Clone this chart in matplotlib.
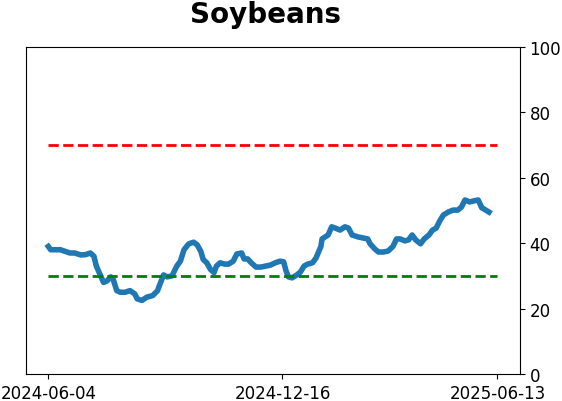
import datetime
import numpy as np
import pandas as pd
import matplotlib
matplotlib.use("Agg")
import matplotlib.pyplot as plt
import matplotlib.dates as mdates

# days after 2024-06-04 and the reading on that day
start = datetime.date(2024, 6, 4)
days = [0, 2, 6, 10, 14, 18, 22, 27, 31, 35, 38, 40, 43, 46, 49, 52, 54, 57, 60, 64,
        68, 72, 74, 78, 82, 87, 91, 93, 96, 99, 103, 107, 110, 113, 117, 121, 124, 127,
        129, 132, 135, 138, 140, 143, 147, 150, 154, 157, 161, 163, 166, 169, 173, 177,
        181, 185, 189, 193, 196, 198, 200, 203, 207, 210, 213, 216, 220, 223, 227, 228,
        233, 236, 239, 243, 247, 250, 253, 258, 262, 266, 268, 272, 275, 279, 283, 287,
        290, 293, 297, 300, 303, 306, 310, 313, 317, 320, 323, 326, 329, 333, 337, 341,
        344, 347, 351, 354, 358, 361, 363, 367]
values = [39, 38, 38, 38, 37.5, 37, 37, 36.4, 36.5, 37, 36, 33, 30.5, 28, 28.5, 29.7, 29,
          25.5, 25, 25, 25.5, 24.5, 23, 22.5, 23.5, 24, 25.5, 27.5, 30.3, 29.7, 30, 33,
          34.5, 38, 39.8, 40.3, 39.5, 37.5, 35, 34, 32, 31, 33, 34, 33.6, 33.6, 34.5, 36.7,
          37, 35.2, 35.2, 34, 32.7, 32.7, 33, 33.3, 34, 34.5, 34.3, 31.5, 29.7, 29.4, 30.3,
          31.2, 33, 33.6, 34, 35.5, 39, 41.3, 42.5, 45, 44.6, 44, 45, 44.6, 42.5, 41.9,
          41.6, 41.3, 39.8, 38.2, 37.3, 37.3, 37.6, 39, 41.3, 41.3, 40.7, 41, 42.5, 41,
          39.8, 41.3, 42.5, 44, 44.6, 46.8, 48.6, 49.5, 50.1, 50.1, 51, 53.2, 52.6, 52.9,
          53.2, 50.8, 50.4, 49.5]
tick_labels = ["2024-06-04", "2024-12-16", "2025-06-13"]
upper_level = 70
lower_level = 30

dates = pd.to_datetime(start) + pd.to_timedelta(days, unit="D")
tick_dates = pd.to_datetime(tick_labels)

fig = plt.figure(figsize=(5.62, 4.02), dpi=100)
ax = fig.add_axes([0.046, 0.067, 0.879, 0.814])

ax.plot(dates, values, color="#1f77b4", linewidth=4)
ax.plot([tick_dates[0], tick_dates[-1]], [upper_level, upper_level], "--", color="red", linewidth=2)
ax.plot([tick_dates[0], tick_dates[-1]], [lower_level, lower_level], "--", color="green", linewidth=2)

span = tick_dates[-1] - tick_dates[0]
ax.set_xlim(tick_dates[0] - span * 0.05, tick_dates[-1] + span * 0.05)
ax.set_xticks(tick_dates)
ax.set_xticklabels(tick_labels, fontsize=12)
ax.set_ylim(0, 100)
ax.yaxis.tick_right()
ax.set_yticks(range(0, 101, 20))
ax.tick_params(axis="y", labelsize=12)
ax.set_title("Soybeans", fontsize=20, fontweight="bold", pad=18, x=0.485)

fig.savefig("out.png", dpi=100)
